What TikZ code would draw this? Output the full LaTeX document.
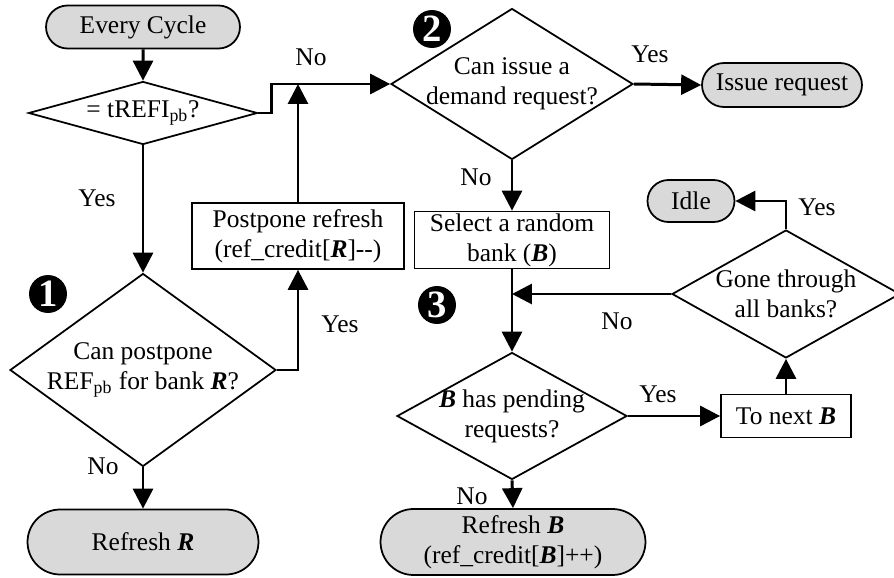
\documentclass[tikz,border=0pt]{standalone}
\usepackage{fontspec}
\setmainfont{Liberation Serif}
\usepackage{tikz}
\usetikzlibrary{shapes.geometric,shapes.misc,arrows.meta}

\newcommand{\bR}{\textbf{\textit{R}}}
\newcommand{\bB}{\textbf{\textit{B}}}

\begin{document}
\begin{tikzpicture}[x=0.02cm, y=-0.02cm,
        font=\fontsize{14.5}{17}\selectfont,
        term/.style={rounded rectangle, draw, line width=1pt, fill=black!15, inner sep=0pt, align=center},
        proc/.style={rectangle, draw, line width=1pt, inner sep=0pt, align=center},
        decision/.style={diamond, draw, line width=1pt, inner sep=0pt},
        dtext/.style={align=center, inner sep=0pt},
        lbl/.style={inner sep=0pt},
        badge/.style={circle, fill=black, text=white, inner sep=0pt, minimum size=0.76cm,
                      font=\bfseries\fontsize{22}{22}\selectfont},
        flow/.style={line width=1.7pt, -{Triangle[length=0.4cm, width=0.4cm]}}]
        % Fix the size of the picture
        \useasboundingbox (0,0) rectangle (894,578);

        % Left column
        \node[term, minimum width=3.88cm, minimum height=0.86cm] (start) at (143,27) {Every Cycle};
        \node[decision, minimum width=4.58cm, minimum height=1.26cm,
              label={[dtext]center:= tREFI\textsubscript{pb}?}] (tref) at (143,113) {};
        \node[decision, minimum width=5.32cm, minimum height=3.86cm,
              label={[dtext]center:Can postpone\\REF\textsubscript{pb} for bank \bR?}] (canpp) at (143,370) {};
        \node[term, minimum width=4.62cm, minimum height=1.3cm] (refR) at (143,542) {Refresh \bR};
        \node[proc, minimum width=4.24cm, minimum height=1.32cm] (post) at (298,236) {Postpone refresh\\(ref\_credit[\bR]-{}-)};

        % Middle column
        \node[decision, minimum width=4.84cm, minimum height=3.02cm,
              label={[dtext]center:Can issue a\\demand request?}] (demand) at (512,84) {};
        \node[proc, minimum width=3.9cm, minimum height=1.14cm] (sel) at (512,240) {Select a random\\bank (\bB)};
        \node[decision, minimum width=4.6cm, minimum height=2.54cm,
              label={[dtext]center:\bB{} has pending\\requests?}] (pend) at (512,416) {};
        \node[term, minimum width=5.3cm, minimum height=1.32cm] (refB) at (513,542) {Refresh \bB\\(ref\_credit[\bB]++)};

        % Right column
        \node[term, minimum width=3.2cm, minimum height=0.88cm] (issue) at (782,85) {Issue request};
        \node[term, minimum width=1.74cm, minimum height=0.84cm] (idle) at (691,201) {Idle};
        \node[decision, minimum width=4.56cm, minimum height=2.56cm,
              label={[dtext]center:Gone through\\all banks?}] (gone) at (786,294) {};
        \node[proc, minimum width=2.6cm, minimum height=0.86cm] (next) at (786,416) {To next \bB};

        % Step markers
        \node[badge] (b1) at (48,294) {1};
        \node[badge] (b2) at (432,29) {2};
        \node[badge] (b3) at (437,305) {3};

        % Connectors
        \draw[flow] (start) -- (tref);
        \draw[flow] (tref.east) -- ++(13,0) |- (demand.west);
        \draw[flow] (post.north) -- (post.north |- demand.west);
        \draw[flow] (tref.south) -- (canpp.north);
        \draw[flow] (canpp.east) -| (post.south);
        \draw[flow] (canpp.south) -- (refR.north);
        \draw[flow] (demand.east) -- (issue.west);
        \draw[flow] (demand.south) -- (sel.north);
        \draw[flow] (sel.south) -- (pend.north);
        \draw[flow] (gone.west) -- (sel.south |- gone.west);
        \draw[flow] (gone.north) |- (idle.east);
        \draw[flow] (pend.east) -- (next.west);
        \draw[flow] (next.north) -- (gone.south);
        \draw[flow] (pend.south) -- (refB.north);

        % Yes / No labels
        \node[lbl] (no1) at (311,57) {No};
        \node[lbl] (yes1) at (97,198) {Yes};
        \node[lbl] (yes2) at (340,324) {Yes};
        \node[lbl] (no2) at (103,466) {No};
        \node[lbl] (yes3) at (650,54) {Yes};
        \node[lbl] (no3) at (476,177) {No};
        \node[lbl] (no4) at (617,321) {No};
        \node[lbl] (yes4) at (817,207) {Yes};
        \node[lbl] (yes5) at (658,394) {Yes};
        \node[lbl] (no5) at (472,496) {No};
    \end{tikzpicture}
\end{document}
